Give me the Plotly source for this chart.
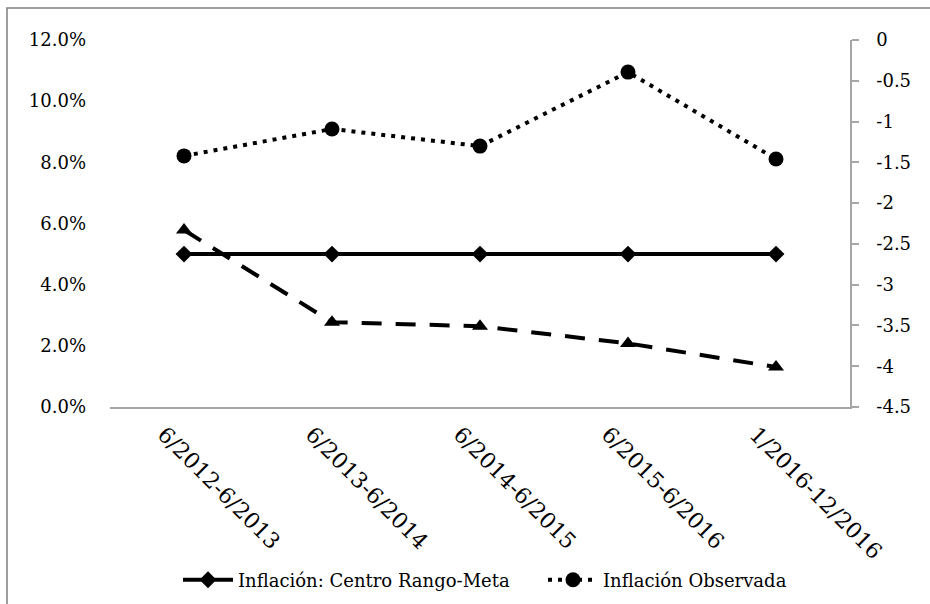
import plotly.graph_objects as go

categories = ["6/2012-6/2013", "6/2013-6/2014", "6/2014-6/2015", "6/2015-6/2016", "1/2016-12/2016"]
centro_meta = [5.0, 5.0, 5.0, 5.0, 5.0]
inflacion_observada = [8.21, 9.09, 8.53, 10.95, 8.11]
serie_derecha = [-2.33, -3.46, -3.51, -3.72, -4.01]

left_ticks = [0, 2, 4, 6, 8, 10, 12]
left_labels = ["0.0%", "2.0%", "4.0%", "6.0%", "8.0%", "10.0%", "12.0%"]
right_ticks = [0, -0.5, -1, -1.5, -2, -2.5, -3, -3.5, -4, -4.5]
right_labels = ["0", "-0.5", "-1", "-1.5", "-2", "-2.5", "-3", "-3.5", "-4", "-4.5"]

FONT = "DejaVu Serif"

fig = go.Figure()
fig.add_trace(go.Scatter(
    x=categories, y=centro_meta, name="Inflación: Centro Rango-Meta",
    mode="lines+markers",
    line=dict(color="black", width=4),
    marker=dict(symbol="diamond", size=13, color="black"),
))
fig.add_trace(go.Scatter(
    x=categories, y=inflacion_observada, name="Inflación Observada",
    mode="lines+markers",
    line=dict(color="black", width=4, dash="4px,6px"),
    marker=dict(symbol="circle", size=15, color="black"),
))
fig.add_trace(go.Scatter(
    x=categories, y=serie_derecha, name="Serie",
    mode="lines+markers", yaxis="y2", showlegend=False,
    line=dict(color="black", width=4, dash="20px,14px"),
    marker=dict(symbol="triangle-up", size=14, color="black"),
))

W, H = 930, 604
L, R, T, B = 110, 80, 40, 197
pw = W - L - R
ph = H - T - B

fig.update_layout(
    width=W, height=H,
    margin=dict(l=L, r=R, t=T, b=B, pad=0, autoexpand=False),
    paper_bgcolor="white", plot_bgcolor="white",
    font=dict(family=FONT, size=18, color="black"),
    xaxis=dict(
        type="category", range=[-0.5, 4.5],
        showline=True, linecolor="#a6a6a6", linewidth=1.5,
        showgrid=False, zeroline=False, ticks="",
        tickangle=45, ticklabelstandoff=4, ticklabelshift=-20,
        tickfont=dict(family=FONT, size=22),
    ),
    yaxis=dict(
        range=[0, 12], tickvals=left_ticks, ticktext=left_labels,
        showline=False, showgrid=False, zeroline=False, ticks="",
        ticklabelstandoff=23,
        tickfont=dict(family=FONT, size=18),
    ),
    yaxis2=dict(
        range=[-4.5, 0], tickvals=right_ticks, ticktext=right_labels,
        overlaying="y", side="right",
        showline=True, linecolor="#a6a6a6", linewidth=1.5,
        showgrid=False, zeroline=False,
        ticks="outside", ticklen=7, tickcolor="#a6a6a6", tickwidth=1.5,
        ticklabelstandoff=14,
        tickfont=dict(family=FONT, size=18),
    ),
    legend=dict(
        orientation="h", x=(178 - L) / pw, xanchor="left",
        y=(407 - 580) / ph, yanchor="middle",
        font=dict(family=FONT, size=18),
        itemwidth=50, entrywidth=300, entrywidthmode="pixels",
        bgcolor="rgba(0,0,0,0)",
    ),
    shapes=[dict(
        type="rect", xref="paper", yref="paper",
        x0=(7 - L) / pw, x1=(940 - L) / pw,
        y0=(407 - 620) / ph, y1=(407 - 8) / ph,
        line=dict(color="#7f7f7f", width=1.5), fillcolor="rgba(0,0,0,0)",
        layer="below",
    )],
)

fig.write_html(
    "out.html",
    config={"displayModeBar": False},
    post_script="document.body.style.margin='0';document.body.style.overflow='hidden';",
)
